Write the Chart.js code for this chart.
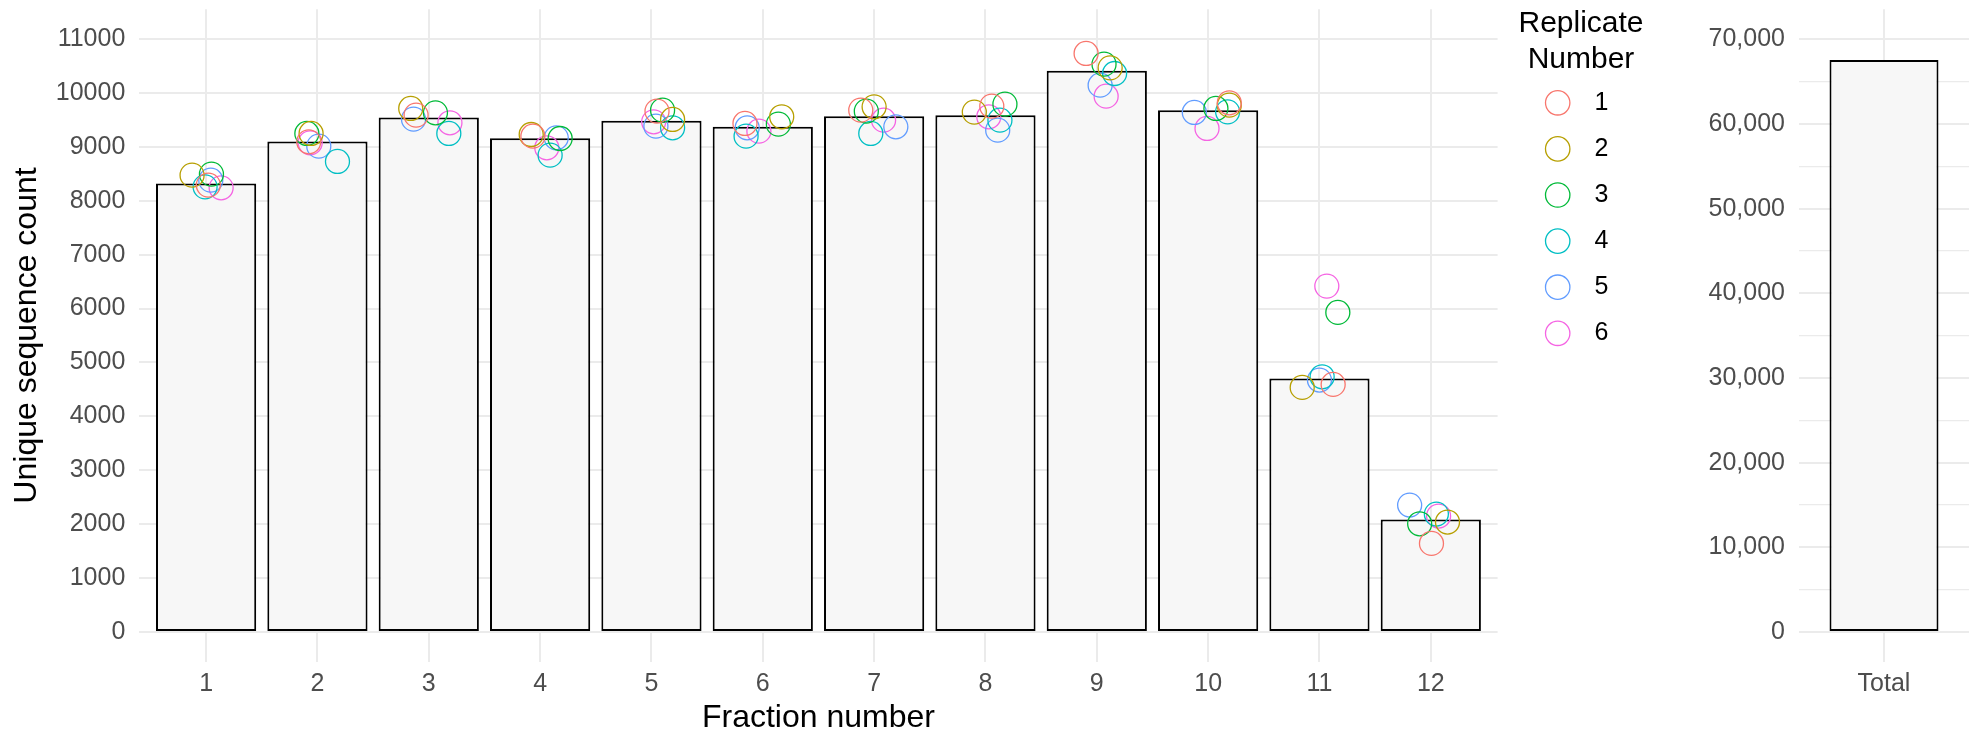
<!DOCTYPE html>
<html>
<head>
<meta charset="utf-8">
<script src="https://cdn.jsdelivr.net/npm/chart.js@4/dist/chart.umd.min.js"></script>
<style>
  html, body { margin: 0; padding: 0; background: #ffffff; overflow: hidden; }
  #c1 { position: absolute; left: 0; top: 0; }
  #c2 { position: absolute; left: 1500px; top: 0; }
</style>
</head>
<body>
<canvas id="c1" width="1500" height="734"></canvas>
<canvas id="c2" width="469" height="734"></canvas>
<script>
// ---------------- data ----------------
const fractions = [1, 2, 3, 4, 5, 6, 7, 8, 9, 10, 11, 12];
const fractionLabels = ['1', '2', '3', '4', '5', '6', '7', '8', '9', '10', '11', '12'];
const fractionCounts = [8320, 9098, 9544, 9160, 9481, 9370, 9568, 9587, 10408, 9680, 4703, 2089];

const replicateNames = ['1', '2', '3', '4', '5', '6'];
const rep1 = [8289, 9092, 9587, 9197, 9661, 9433, 9680, 9754, 10731, 9815, 4593, 1644];
const rep2 = [8474, 9247, 9711, 9228, 9507, 9556, 9741, 9643, 10464, 9772, 4537, 2040];
const rep3 = [8493, 9247, 9630, 9154, 9680, 9420, 9661, 9791, 10533, 9711, 5928, 2008];
const rep4 = [8257, 8728, 9247, 8845, 9352, 9197, 9247, 9494, 10359, 9648, 4734, 2188];
const rep5 = [8381, 9012, 9513, 9166, 9383, 9352, 9370, 9309, 10143, 9637, 4673, 2355];
const rep6 = [8239, 9074, 9445, 8981, 9463, 9290, 9494, 9556, 9939, 9340, 6416, 2151];

// horizontal jitter of each replicate point (in fraction units)
const jit1 = [0.02, -0.078, -0.114, -0.065, 0.05, -0.16, -0.12, 0.057, -0.096, 0.19, 0.123, 0.006];
const jit2 = [-0.126, -0.057, -0.162, -0.08, 0.19, 0.17, 0.0, -0.10, 0.12, 0.19, -0.155, 0.15];
const jit3 = [0.048, -0.095, 0.06, 0.18, 0.10, 0.14, -0.07, 0.175, 0.065, 0.07, 0.165, -0.10];
const jit4 = [-0.009, 0.18, 0.18, 0.09, 0.19, -0.15, -0.03, 0.13, 0.16, 0.175, 0.024, 0.05];
const jit5 = [0.042, 0.012, -0.137, 0.145, 0.04, -0.14, 0.195, 0.11, 0.03, -0.124, 0.0, -0.19];
const jit6 = [0.135, -0.065, 0.19, 0.06, 0.02, -0.035, 0.085, 0.03, 0.084, -0.01, 0.066, 0.07];

const totalLabels = ['Total'];
const totalCounts = [67556];

const leftTicks = [0, 1000, 2000, 3000, 4000, 5000, 6000, 7000, 8000, 9000, 10000, 11000];
const rightTicks = [0, 5000, 10000, 15000, 20000, 25000, 30000, 35000, 40000, 45000, 50000, 55000, 60000, 65000, 70000];

const legendTitle = ['Replicate', 'Number'];

// ---------------- styling ----------------
const FONT = "'Liberation Sans', Arial, Helvetica, sans-serif";
Chart.defaults.font.family = FONT;
Chart.defaults.animation = false;

const repColors = ['#F8766D', '#B79F00', '#00BA38', '#00BFC4', '#619CFF', '#F564E3'];
const reps = [rep1, rep2, rep3, rep4, rep5, rep6];
const jits = [jit1, jit2, jit3, jit4, jit5, jit6];
const GRID = '#EBEBEB';
const TICKC = '#4D4D4D';

function noEdgePadding(s) {
  s.paddingTop = 0; s.paddingBottom = 0; s.paddingLeft = 0; s.paddingRight = 0;
}

// ---------------- left panel ----------------
const leftDatasets = [{
  type: 'bar',
  label: 'Fraction',
  data: fractions.map((f, i) => ({ x: f, y: fractionCounts[i] })),
  backgroundColor: '#F7F7F7',
  borderColor: '#000000',
  borderWidth: 2,
  borderSkipped: false,
  barPercentage: 0.9,
  categoryPercentage: 1.0,
  order: 1
}].concat(reps.map((r, k) => ({
  type: 'scatter',
  label: replicateNames[k],
  data: fractions.map((f, i) => ({ x: f + jits[k][i], y: r[i] })),
  pointStyle: 'circle',
  pointRadius: 12,
  pointBorderWidth: 1.3,
  pointBackgroundColor: 'rgba(0,0,0,0)',
  pointBorderColor: repColors[k],
  showLine: false,
  clip: false,
  order: 0
})));

new Chart(document.getElementById('c1'), {
  type: 'bar',
  data: { datasets: leftDatasets },
  options: {
    responsive: false,
    animation: false,
    events: [],
    layout: { autoPadding: false, padding: { top: 9.3, right: 2.4, bottom: 0, left: 0 } },
    plugins: { legend: { display: false }, tooltip: { enabled: false } },
    scales: {
      x: {
        type: 'linear',
        offset: false,
        min: 0.4,
        max: 12.6,
        afterBuildTicks: (ax) => { ax.ticks = fractions.map(v => ({ value: v })); },
        afterFit: (s) => { s.height = 72.3; noEdgePadding(s); },
        grid: { color: GRID, lineWidth: 2, drawTicks: false, tickLength: 0, offset: false },
        border: { display: false },
        ticks: {
          autoSkip: false, maxRotation: 0, padding: 7, color: TICKC,
          font: { size: 25 },
          callback: (v, i) => fractionLabels[i]
        },
        title: {
          display: true, text: 'Fraction number', color: '#000000',
          font: { size: 32, lineHeight: 1 }, padding: { top: 0, bottom: 0 }
        }
      },
      y: {
        type: 'linear',
        min: -550,
        max: 11550,
        afterBuildTicks: (ax) => { ax.ticks = leftTicks.map(v => ({ value: v })); },
        afterFit: (s) => { s.width = 139.3; noEdgePadding(s); },
        grid: { color: GRID, lineWidth: 2, drawTicks: false, tickLength: 0 },
        border: { display: false },
        ticks: {
          padding: 14, color: TICKC, font: { size: 25 },
          callback: (v) => String(v)
        },
        title: {
          display: true, text: 'Unique sequence count', color: '#000000',
          font: { size: 32, lineHeight: 1 }, padding: { top: 10.7, bottom: 0 }
        }
      }
    }
  }
});

// ---------------- legend (drawn in the right canvas, left of the Total panel) ----------------
const replicateLegend = {
  id: 'replicateLegend',
  afterDraw(chart, args, o) {
    const ctx = chart.ctx;
    ctx.save();
    ctx.textBaseline = 'middle';
    ctx.fillStyle = '#000000';
    ctx.font = o.titleSize + 'px ' + FONT;
    ctx.textAlign = 'center';
    legendTitle.forEach((t, i) => ctx.fillText(t, o.titleX, o.titleY + i * o.titleStep));
    ctx.font = o.labelSize + 'px ' + FONT;
    ctx.textAlign = 'left';
    replicateNames.forEach((n, k) => {
      const y = o.itemY + k * o.itemStep;
      ctx.beginPath();
      ctx.arc(o.keyX, y, o.keyR, 0, Math.PI * 2);
      ctx.lineWidth = o.keyLine;
      ctx.strokeStyle = repColors[k];
      ctx.stroke();
      ctx.fillStyle = '#000000';
      ctx.fillText(n, o.textX, y);
    });
    ctx.restore();
  }
};

// ---------------- right panel ----------------
new Chart(document.getElementById('c2'), {
  type: 'bar',
  data: {
    labels: totalLabels,
    datasets: [{
      label: 'Total',
      data: totalCounts,
      backgroundColor: '#F7F7F7',
      borderColor: '#000000',
      borderWidth: 2,
      borderSkipped: false,
      barPercentage: 0.641,
      categoryPercentage: 1.0
    }]
  },
  plugins: [replicateLegend],
  options: {
    responsive: false,
    animation: false,
    events: [],
    layout: { autoPadding: false, padding: { top: 9.3, right: 0, bottom: 0, left: 118 } },
    plugins: {
      tooltip: { enabled: false },
      legend: { display: false },
      replicateLegend: {
        titleSize: 30, titleX: 81, titleY: 24, titleStep: 35.7,
        labelSize: 25, keyX: 57.7, keyR: 12.2, keyLine: 1.3,
        textX: 94.5, itemY: 102.8, itemStep: 46.1
      }
    },
    scales: {
      x: {
        type: 'category',
        offset: true,
        afterFit: (s) => { s.height = 72.3; noEdgePadding(s); },
        grid: { color: GRID, lineWidth: 2, drawTicks: false, tickLength: 0, offset: false },
        border: { display: false },
        ticks: { padding: 7, color: TICKC, font: { size: 25 }, maxRotation: 0 }
      },
      y: {
        type: 'linear',
        min: -3500,
        max: 73540,
        afterBuildTicks: (ax) => { ax.ticks = rightTicks.map(v => ({ value: v })); },
        afterFit: (s) => { s.width = 181; noEdgePadding(s); },
        grid: {
          color: GRID, drawTicks: false, tickLength: 0,
          lineWidth: (ctx) => (ctx.tick && ctx.tick.value % 10000 === 0) ? 2 : 1.3
        },
        border: { display: false },
        ticks: {
          padding: 14, color: TICKC, font: { size: 25 },
          callback: (v) => (v % 10000 === 0) ? v.toLocaleString('en-US') : ''
        }
      }
    }
  }
});
</script>
</body>
</html>
